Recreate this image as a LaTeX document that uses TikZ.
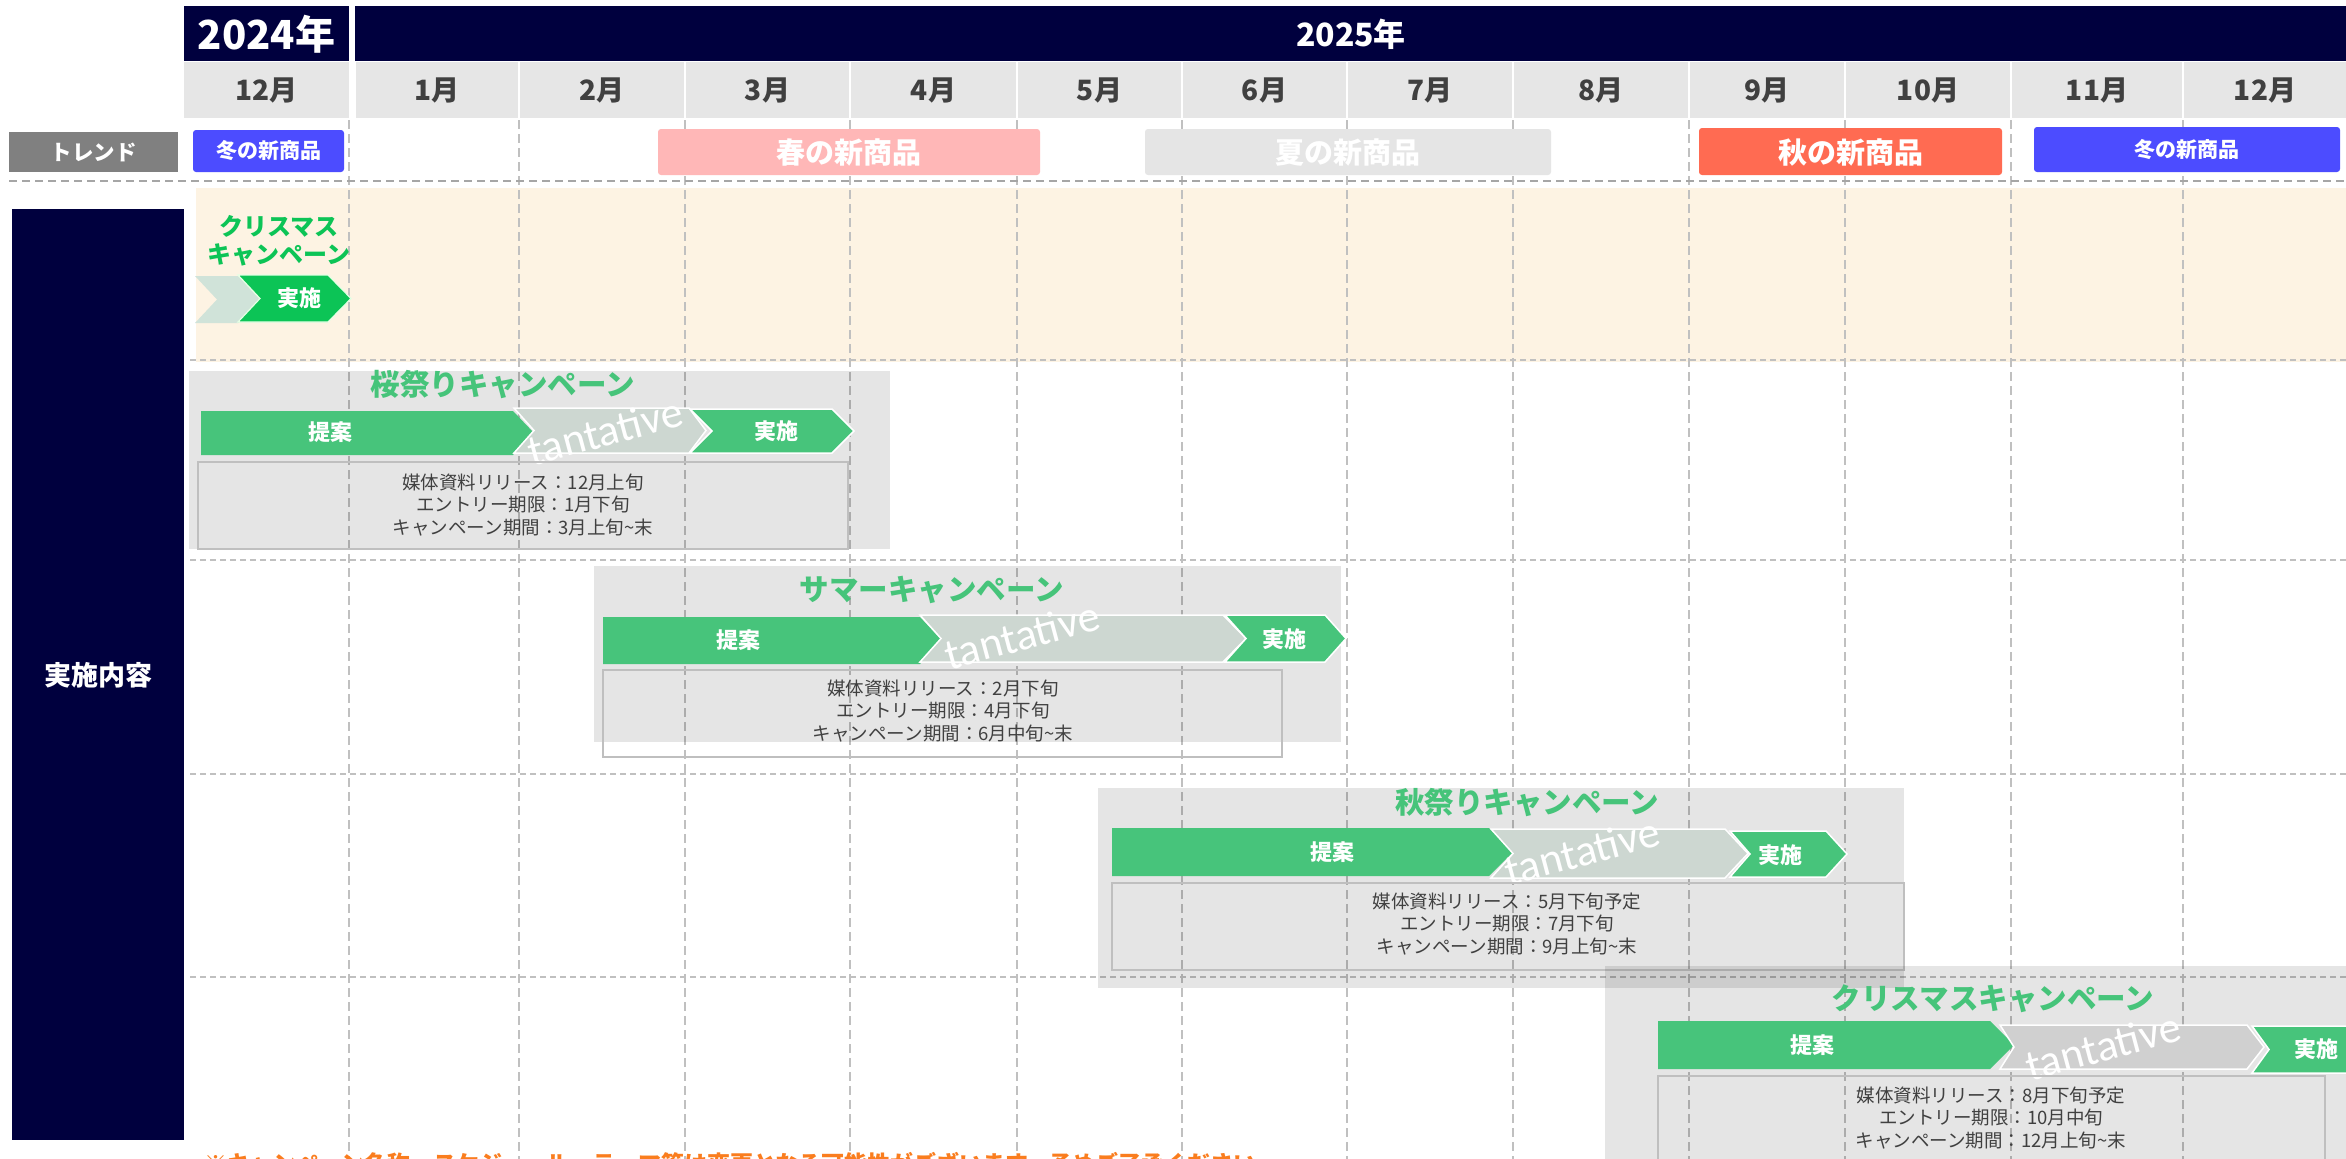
\documentclass[tikz,border=0pt]{standalone}
\usepackage{fontspec}
\setmainfont{Noto Sans CJK JP}
\newfontfamily\latinfont{Carlito}
\definecolor{navy}{RGB}{0,0,62}
\definecolor{cellgray}{RGB}{230,230,230}
\definecolor{txtdark}{RGB}{64,64,64}
\definecolor{trendgray}{RGB}{128,128,128}
\definecolor{winterblue}{RGB}{76,76,255}
\definecolor{springpink}{RGB}{255,183,183}
\definecolor{summergray}{RGB}{229,229,229}
\definecolor{autumnred}{RGB}{255,107,82}
\definecolor{cream}{RGB}{253,243,227}
\definecolor{gridgray}{RGB}{192,192,192}
\definecolor{sepgray}{RGB}{166,166,166}
\definecolor{titlegreen}{RGB}{70,196,122}
\definecolor{xgreen}{RGB}{12,196,86}
\definecolor{arrgreen}{RGB}{71,196,123}
\definecolor{tantgray}{RGB}{205,215,209}
\definecolor{tantgray2}{RGB}{208,208,208}
\definecolor{palechev}{RGB}{208,227,217}
\definecolor{infoborder}{RGB}{191,191,191}
\definecolor{noteorange}{RGB}{250,125,30}
\tikzset{
  monthtxt/.style={font=\bfseries\fontsize{28}{30}\selectfont, text=txtdark, inner sep=0pt},
  yeartxt/.style={font=\bfseries\fontsize{#1}{#1}\selectfont, text=white, inner sep=0pt},
  trendbox/.style={rounded corners=3pt},
  trendtxt/.style={font=\bfseries\fontsize{#1}{#1}\selectfont, text=white, inner sep=0pt},
  vgrid/.style={draw=gridgray, line width=1.3pt, dash pattern=on 9pt off 5pt},
  hgrid/.style={draw=gridgray, line width=1.5pt, dash pattern=on 6pt off 4pt},
  groupbox/.style={fill=black, fill opacity=0.1},
  infobox/.style={draw=infoborder, line width=2pt},
  infotxt/.style={font=\fontsize{18.5}{22.5}\selectfont, text=txtdark, align=center, inner sep=0pt},
  titletxt/.style={font=\bfseries\fontsize{29.5}{31}\selectfont, text=titlegreen, inner sep=0pt},
  arrtxt/.style={font=\bfseries\fontsize{22}{24}\selectfont, text=white, inner sep=0pt},
  tanttxt/.style={font=\latinfont\fontsize{44}{44}\selectfont, text=white, rotate=15, inner sep=0pt},
  propchev/.style={fill=arrgreen},
  tantchev/.style={fill=tantgray, draw=white, line width=1.5pt},
  implchev/.style={fill=arrgreen, draw=white, line width=1.5pt},
}
% #1 style, #2 left x, #3 flat end x, #4 tip x, #5 top y, #6 bottom y, #7 notch x
\newcommand\mychev[7]{%
  \path[#1] (#2,#5) -- (#3,#5) -- (#4,{(#5+#6)/2}) -- (#3,#6) -- (#2,#6) -- (#7,{(#5+#6)/2}) -- cycle;}
\begin{document}
\begin{tikzpicture}[x=1pt,y=-1pt]
\useasboundingbox (0,0) rectangle (2346,1159);
\clip (0,0) rectangle (2346,1159);
\fill[white] (0,0) rectangle (2346,1159);

% ---------- header ----------
\fill[navy] (184,6) rectangle (349,61);
\node[yeartxt=40] (y2024) at (266.5,34) {2024年};
\fill[navy] (355,6) rectangle (2346,61);
\node[yeartxt=32] (y2025) at (1351,34) {2025年};

\fill[cellgray] (184,62) rectangle (349,118);
\node[monthtxt] (m0) at (266.5,90) {12月};
\foreach \a/\b/\n/\t in {355/519/m1/1月,519/685/m2/2月,685/850/m3/3月,850/1017/m4/4月,1017/1182/m5/5月,1182/1347/m6/6月,1347/1513/m7/7月,1513/1689/m8/8月,1689/1845/m9/9月,1845/2011/m10/10月,2011/2183/m11/11月,2183/2347/m12/12月}{
  \fill[cellgray] (\a+1,62) rectangle (\b-1,118);
  \node[monthtxt] (\n) at ({(\a+\b)/2},90) {\t};
}

% ---------- cream band ----------
\fill[cream] (196,188) rectangle (2346,362);

% ---------- grid ----------
\foreach \x in {349,519,685,850,1017,1182,1347,1513,1689,1845,2011,2183}{
  \draw[vgrid] (\x,120) -- (\x,1159);
}
\foreach \y in {360,560,774,977}{
  \draw[hgrid] (190,\y) -- (2346,\y);
}
\draw[draw=sepgray, line width=2.5pt, dash pattern=on 8pt off 5pt] (9,181) -- (2346,181);

% ---------- trend row ----------
\fill[trendgray] (9,132) rectangle (178,172);
\node[trendtxt=21.5] (trend) at (93.5,152) {トレンド};
\fill[trendbox, winterblue] (193,130) rectangle (344,172);
\node[trendtxt=21] (win1) at (268.5,151) {冬の新商品};
\fill[trendbox, springpink] (658,129) rectangle (1040,175);
\node[trendtxt=29] (spring) at (849,152) {春の新商品};
\fill[trendbox, summergray] (1145,129) rectangle (1551,175);
\node[trendtxt=29] (summer) at (1348,152) {夏の新商品};
\fill[trendbox, autumnred] (1699,128) rectangle (2002,175);
\node[trendtxt=29] (autumn) at (1850.5,152) {秋の新商品};
\fill[trendbox, winterblue] (2034,127) rectangle (2340,172);
\node[trendtxt=21] (win2) at (2187,149.5) {冬の新商品};

% ---------- left label ----------
\fill[navy] (12,209) rectangle (184,1140);
\node[trendtxt=27] (impl) at (98,675) {実施内容};

% ---------- Christmas 2024 ----------
\node[font=\bfseries\fontsize{24}{28}\selectfont, text=xgreen, align=center, inner sep=0pt] (xmas1) at (279,241) {クリスマス\\キャンペーン};
\mychev{fill=palechev}{195}{238}{260}{276}{323}{217}
\mychev{fill=xgreen, draw=white!90!green, line width=1.2pt}{238}{328}{351}{275}{322}{260}
\node[arrtxt] (x1impl) at (299,298) {実施};

% ---------- Sakura ----------
\fill[groupbox] (189,371) rectangle (890,549);
\node[titletxt] (sakura) at (503,385) {桜祭りキャンペーン};
\mychev{propchev}{201}{513}{534}{411}{455}{201}
\mychev{tantchev}{514}{689}{706}{408}{453}{534}
\mychev{implchev}{690}{832}{854}{409}{453}{712}
\node[arrtxt] (s1) at (330,432) {提案};
\node[tanttxt] (s2) at (605,431) {tantative};
\node[arrtxt] (s3) at (776,431) {実施};
\draw[infobox] (198,462) rectangle (848,549);
\node[infotxt] (sinfo) at (523,505) {媒体資料リリース：12月上旬\\エントリー期限：1月下旬\\キャンペーン期間：3月上旬\textasciitilde 末};

% ---------- Summer ----------
\fill[groupbox] (594,566) rectangle (1341,742);
\node[titletxt] (summercp) at (932,590) {サマーキャンペーン};
\mychev{propchev}{603}{920}{942}{617}{664}{603}
\mychev{tantchev}{920}{1223}{1246}{615}{662}{941}
\mychev{implchev}{1225}{1325}{1346}{615}{662}{1246}
\node[arrtxt] (u1) at (738,640) {提案};
\node[tanttxt] (u2) at (1022,635) {tantative};
\node[arrtxt] (u3) at (1284,639) {実施};
\draw[infobox] (603,670) rectangle (1282,757);
\node[infotxt] (uinfo) at (943,711) {媒体資料リリース：2月下旬\\エントリー期限：4月下旬\\キャンペーン期間：6月中旬\textasciitilde 末};

% ---------- Autumn ----------
\fill[groupbox] (1098,788) rectangle (1904,988);
\node[titletxt] (autumncp) at (1527,803) {秋祭りキャンペーン};
\mychev{propchev}{1112}{1489}{1513}{828}{876}{1112}
\mychev{tantchev}{1491}{1725}{1748}{829}{878}{1513}
\mychev{implchev}{1730}{1826}{1847}{831}{877}{1750}
\node[arrtxt] (a1) at (1332,852) {提案};
\node[tanttxt] (a2) at (1582,851) {tantative};
\node[arrtxt] (a3) at (1780,855) {実施};
\draw[infobox] (1112,883) rectangle (1904,970);
\node[infotxt] (ainfo) at (1507,924) {媒体資料リリース：5月下旬予定\\エントリー期限：7月下旬\\キャンペーン期間：9月上旬\textasciitilde 末};

% ---------- Christmas 2025 ----------
\fill[groupbox] (1605,966) rectangle (2360,1180);
\node[titletxt] (xmas2) at (1993,999) {クリスマスキャンペーン};
\mychev{propchev}{1658}{1990}{2014}{1021}{1069}{1658}
\mychev{fill=tantgray2, draw=white, line width=1.5pt}{2000}{2247}{2264}{1025}{1069}{2014}
\mychev{implchev}{2252}{2350}{2372}{1026}{1073}{2269}
\node[arrtxt] (c1) at (1812,1045) {提案};
\node[tanttxt] (c2) at (2103,1046) {tantative};
\node[arrtxt] (c3) at (2316,1049) {実施};
\draw[infobox] (1658,1076) rectangle (2325,1190);
\node[infotxt] (cinfo) at (1991,1118) {媒体資料リリース：8月下旬予定\\エントリー期限：10月中旬\\キャンペーン期間：12月上旬\textasciitilde 末};

% ---------- note (cut at bottom edge) ----------
\node[anchor=north west, inner sep=0pt, font=\bfseries\fontsize{23}{25}\selectfont, text=noteorange] (note) at (204,1152) {※キャンペーン名称、スケジュール、テーマ等は変更となる可能性がございます。予めご了承ください。};
\end{tikzpicture}
\end{document}
